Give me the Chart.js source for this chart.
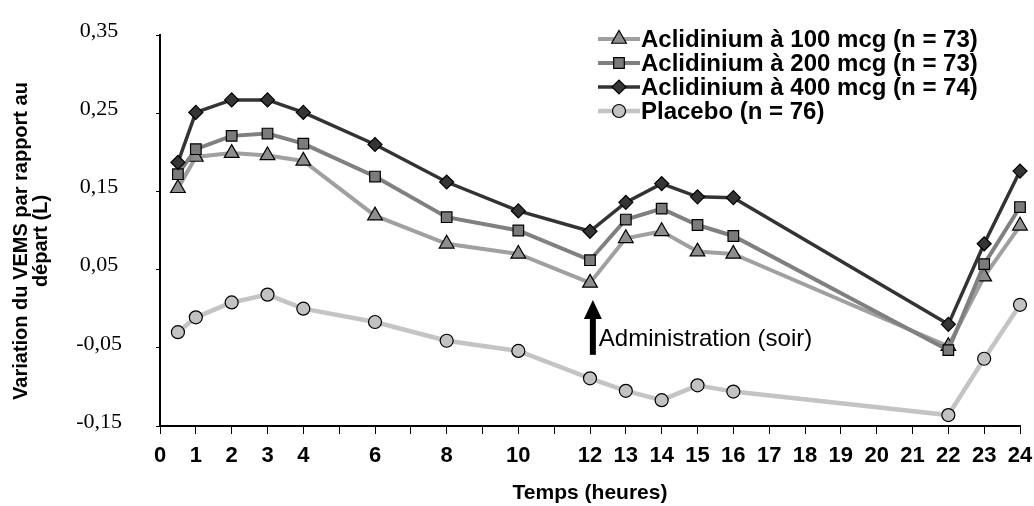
<!DOCTYPE html>
<html lang="fr">
<head>
  <meta charset="UTF-8">
  <title>Variation du VEMS</title>
  <script src="https://cdn.jsdelivr.net/npm/chart.js"></script>
  <style>
    html, body {
      margin: 0;
      padding: 0;
      background: #fff;
    }
  </style>
</head>
<body>

<canvas id="graphique" width="1034" height="506"></canvas>

<script>
// Données
const heures = [0.5, 1, 2, 3, 4, 6, 8, 10, 12, 13, 14, 15, 16, 22, 23, 24];
const acli100 = [0.154, 0.194, 0.199, 0.196, 0.189, 0.119, 0.083, 0.070, 0.033, 0.090, 0.099, 0.073, 0.070, -0.048, 0.041, 0.106];
const acli200 = [0.172, 0.204, 0.221, 0.224, 0.211, 0.169, 0.117, 0.100, 0.062, 0.114, 0.128, 0.107, 0.093, -0.053, 0.057, 0.130];
const acli400 = [0.187, 0.251, 0.267, 0.267, 0.251, 0.210, 0.162, 0.125, 0.099, 0.136, 0.160, 0.143, 0.142, -0.020, 0.083, 0.176];
const placebo = [-0.030, -0.011, 0.008, 0.018, 0.000, -0.017, -0.041, -0.054, -0.089, -0.105, -0.117, -0.098, -0.106, -0.136, -0.064, 0.005];

const etiquettes = [
  'Aclidinium à 100 mcg (n = 73)',
  'Aclidinium à 200 mcg (n = 73)',
  'Aclidinium à 400 mcg (n = 74)',
  'Placebo (n = 76)'
];
const heuresSansEtiquette = [5, 7, 9, 11];
const titreY = ['Variation du VEMS par rapport au', 'départ (L)'];
const titreX = 'Temps (heures)';

// Flèche "Administration (soir)"
const texteFleche = 'Administration (soir)';
const flecheHeure = 12.08;
const flecheHaut = 0.011;
const flecheBas = -0.059;
const texteNiveau = -0.039;

function points(valeurs) {
  return heures.map((h, i) => ({ x: h, y: valeurs[i] }));
}

function serie(label, valeurs, ligne, remplissage, forme, rayon, epaisseur, ordre) {
  return {
    label: label,
    data: points(valeurs),
    borderColor: ligne,
    borderWidth: epaisseur,
    pointStyle: forme,
    pointRadius: rayon,
    pointBackgroundColor: remplissage,
    pointBorderColor: '#000',
    pointBorderWidth: 1.2,
    tension: 0,
    clip: false,
    order: ordre
  };
}

// Légende dessinée à la main : trait + marqueur
const legendeLignes = {
  id: 'legendeLignes',
  afterDraw(chart) {
    const ctx = chart.ctx;
    const x0 = 598, y0 = 39, pas = 24;
    chart.data.datasets.forEach((ds, i) => {
      const y = y0 + i * pas;
      ctx.save();
      ctx.strokeStyle = ds.borderColor;
      ctx.lineWidth = ds.borderWidth;
      ctx.beginPath();
      ctx.moveTo(x0, y);
      ctx.lineTo(x0 + 42, y);
      ctx.stroke();
      ctx.fillStyle = ds.pointBackgroundColor;
      ctx.strokeStyle = ds.pointBorderColor;
      ctx.lineWidth = ds.pointBorderWidth;
      Chart.helpers.drawPoint(ctx, {
        pointStyle: ds.pointStyle,
        radius: ds.pointRadius,
        rotation: 0,
        borderWidth: ds.pointBorderWidth
      }, x0 + 21, y);
      ctx.fillStyle = '#000';
      ctx.font = 'bold 24px "Liberation Sans", Arial, sans-serif';
      ctx.textBaseline = 'middle';
      ctx.textAlign = 'left';
      ctx.fillText(etiquettes[i], x0 + 43, y + 1);
      ctx.restore();
    });
  }
};

// Flèche et texte d'administration
const fleche = {
  id: 'fleche',
  afterDatasetsDraw(chart) {
    const ctx = chart.ctx;
    const sx = chart.scales.x, sy = chart.scales.y;
    const px = sx.getPixelForValue(flecheHeure);
    const haut = sy.getPixelForValue(flecheHaut);
    const bas = sy.getPixelForValue(flecheBas);
    ctx.save();
    ctx.fillStyle = '#000';
    ctx.fillRect(px - 3, haut + 17, 6, bas - haut - 17);
    ctx.beginPath();
    ctx.moveTo(px, haut);
    ctx.lineTo(px + 9, haut + 19);
    ctx.lineTo(px - 9, haut + 19);
    ctx.closePath();
    ctx.fill();
    ctx.font = '24px "Liberation Sans", Arial, sans-serif';
    ctx.textBaseline = 'middle';
    ctx.fillText(texteFleche, px + 6, sy.getPixelForValue(texteNiveau));
    ctx.restore();
  }
};

// Titre de l'axe Y sur deux lignes
const titreAxeY = {
  id: 'titreAxeY',
  afterDraw(chart) {
    const ctx = chart.ctx;
    ctx.save();
    ctx.translate(21, 241);
    ctx.rotate(-Math.PI / 2);
    ctx.fillStyle = '#000';
    ctx.font = 'bold 20px "Liberation Sans", Arial, sans-serif';
    ctx.textAlign = 'center';
    ctx.textBaseline = 'middle';
    titreY.forEach((ligne, i) => ctx.fillText(ligne, 0, i * 20));
    ctx.restore();
  }
};

new Chart(document.getElementById('graphique'), {
  type: 'line',
  data: {
    datasets: [
      serie(etiquettes[0], acli100, '#a0a0a0', '#8e8e8e', 'triangle', 8.5, 4, 3),
      serie(etiquettes[1], acli200, '#808080', '#7b7b7b', 'rect', 7.5, 4, 2),
      serie(etiquettes[2], acli400, '#333333', '#353535', 'rectRot', 7, 3.5, 1),
      serie(etiquettes[3], placebo, '#c4c4c4', '#c2c2c2', 'circle', 6.5, 4.5, 0)
    ]
  },
  options: {
    responsive: false,
    animation: false,
    layout: { padding: { top: 35, right: 14, left: 0, bottom: 0 } },
    plugins: {
      legend: { display: false },
      tooltip: { enabled: false }
    },
    scales: {
      x: {
        type: 'linear',
        min: 0,
        max: 24,
        afterFit: (s) => {
          s.height = 80;
          s.paddingLeft = 0;
          s.paddingRight = 0;
        },
        ticks: {
          stepSize: 1,
          autoSkip: false,
          maxRotation: 0,
          padding: 9,
          color: '#000',
          font: { family: '"Liberation Sans Narrow", "Arial Narrow", sans-serif', size: 22, weight: 'bold' },
          callback: (v) => heuresSansEtiquette.includes(v) ? '' : String(v)
        },
        grid: { drawOnChartArea: false, drawTicks: true, tickLength: 8, color: '#000', lineWidth: 1 },
        border: { color: '#000', width: 2 },
        title: {
          display: true,
          text: titreX,
          color: '#000',
          font: { family: '"Liberation Sans", Arial, sans-serif', size: 21, weight: 'bold' },
          padding: { top: 0, bottom: 0 }
        }
      },
      y: {
        min: -0.15,
        max: 0.35,
        afterFit: (s) => {
          s.width = 160;
          s.paddingTop = 0;
          s.paddingBottom = 0;
        },
        ticks: {
          stepSize: 0.1,
          crossAlign: 'center',
          padding: 34,
          labelOffset: -4,
          color: '#000',
          font: { family: '"Liberation Serif", "Times New Roman", serif', size: 22 },
          callback: (v) => v.toFixed(2).replace('.', ',')
        },
        grid: { drawOnChartArea: false, drawTicks: true, tickLength: 4, color: '#000', lineWidth: 1 },
        border: { color: '#000', width: 2 }
      }
    }
  },
  plugins: [legendeLignes, fleche, titreAxeY]
});
</script>
</body>
</html>
